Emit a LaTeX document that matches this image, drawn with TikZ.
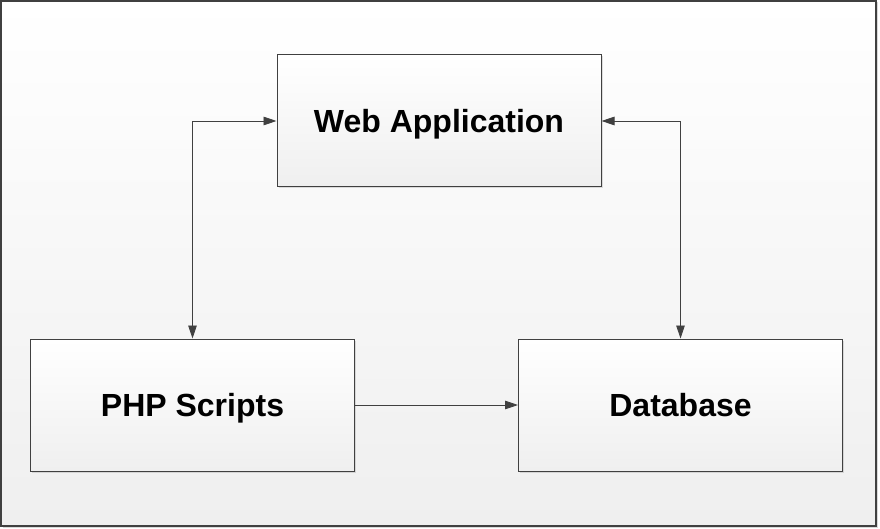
\documentclass[tikz,border=0pt]{standalone}
\usepackage{fontspec}
\setmainfont{Liberation Sans}
\usetikzlibrary{arrows.meta,positioning,shadows}
\definecolor{lineGray}{HTML}{404040}
\definecolor{paleGray}{HTML}{EFEFEF}

\begin{document}
\begin{tikzpicture}[
    x=1pt, y=-1pt,
    block/.style={draw=lineGray, line width=1pt, top color=white, bottom color=paleGray, minimum width=324pt, minimum height=132pt, text height=23pt, text depth=0pt, align=center, font=\fontsize{32}{38}\selectfont\bfseries, drop shadow={shadow xshift=1.5pt, shadow yshift=-1.5pt, opacity=0.25}},
    tip/.style={-{Triangle[length=13pt, width=8.5pt]}},
    link/.style={draw=lineGray, line width=0.8pt, tip},
    twoway/.style={draw=lineGray, line width=0.8pt, {Triangle[length=13pt, width=8.5pt]}-{Triangle[length=13pt, width=8.5pt]}}
  ]
    \useasboundingbox (0,0) rectangle (880,529);
    % Frame
    \draw[lineGray, line width=1.2pt, top color=white, bottom color=paleGray, drop shadow={shadow xshift=1.5pt, shadow yshift=-1.5pt, opacity=0.3}] (1,1) rectangle (876,526);

    % Nodes
    \node[block] (web) at (439,121) {Web Application};
    \node[block] (php) at (192.5,405) {PHP Scripts};
    \node[block] (db) at (680.5,405) {Database};

    % Edges
    \draw[twoway] (php.north) |- (web.west);
    \draw[twoway] (db.north) |- (web.east);
    \draw[link] (php) -- (db);
  \end{tikzpicture}
\end{document}
